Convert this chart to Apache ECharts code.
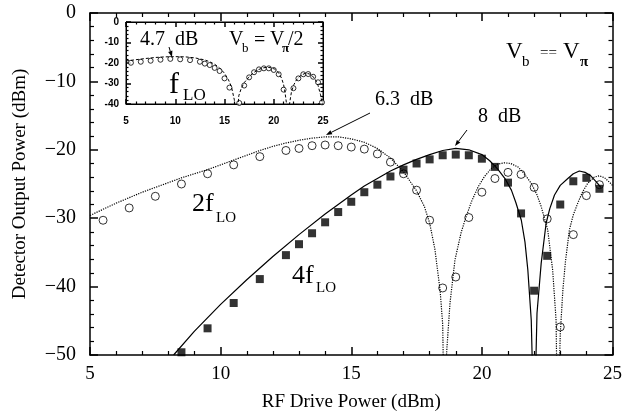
<!DOCTYPE html>
<html>
<head>
<meta charset="utf-8">
<script src="https://cdn.jsdelivr.net/npm/echarts@6/dist/echarts.min.js"></script>
<style>
html,body{margin:0;padding:0;background:#fff}
#chart{width:625px;height:420px}
</style>
</head>
<body>
<div id="chart"></div>
<script>
// 2f_LO theory (dotted) and measured (open circles)
var x2Fit = [5.0,5.5,6.0,6.5,7.0,7.5,8.0,8.5,9.0,9.5,10.0,10.5,11.0,11.5,12.0,12.5,13.0,13.5,14.0,14.5,15.0,15.5,16.0,16.5,17.0,17.5,
             17.8,18.0,18.2,18.4,18.5,18.57,
             18.65,18.78,18.97,19.2,19.35,19.6,19.86,20.1,20.37,20.6,20.87,21.1,21.38,21.6,21.89,22.1,22.27,22.52,22.71,22.84,22.9,
             23.0,23.1,23.2,23.35,23.5,23.67,23.85,24.05,24.3,24.5,24.7,24.9,25.0];
var y2Fit = [-29.6,-28.7,-27.8,-27.0,-26.2,-25.5,-24.8,-24.1,-23.5,-22.9,-22.2,-21.5,-20.8,-20.1,-19.5,-19.0,-18.6,-18.3,-18.1,-18.1,-18.4,-18.9,-19.8,-21.2,-23.2,-26.0,
             -28.3,-30.7,-34.5,-40.5,-45.5,-62,
             -49.7,-42.4,-36.1,-32.2,-30.3,-27.6,-25.4,-23.9,-22.7,-22.1,-21.9,-22.0,-22.5,-23.4,-24.9,-26.5,-28.3,-31.7,-37.6,-44.9,-62,
             -47,-40.5,-36.3,-31.7,-29.5,-27.8,-26.2,-24.9,-24.0,-23.8,-24.1,-24.8,-25.2];
var x2Meas = [5.5,6.5,7.5,8.5,9.5,10.5,11.5,12.5,13,13.5,14,14.5,15,15.5,16,16.5,17,17.5,18,18.5,19,19.5,20,20.5,21,21.5,22,22.5,23,23.5,24,24.5];
var y2Meas = [-30.3,-28.5,-26.8,-25.0,-23.5,-22.2,-21.0,-20.1,-19.8,-19.4,-19.3,-19.4,-19.6,-19.9,-20.6,-21.8,-23.5,-25.9,-30.3,-40.2,-38.6,-29.9,-26.2,-24.2,-23.3,-23.6,-25.5,-30.1,-45.9,-32.4,-26.7,-25.1];

// 4f_LO theory (solid) and measured (filled squares)
var x4Fit = [8.2,9.0,10.0,11.0,12.0,13.0,14.0,15.0,15.5,16.0,16.5,17.0,17.5,18.0,18.5,19.0,19.5,20.0,
             20.3,20.6,20.9,21.13,21.3,21.51,21.65,21.76,21.89,22.0,
             22.11,22.27,22.46,22.6,22.78,23.0,23.29,23.5,23.73,23.95,24.17,24.43,24.55];
var y4Fit = [-50.0,-46.5,-42.6,-39.0,-35.6,-32.4,-29.4,-26.6,-25.3,-24.2,-23.1,-22.2,-21.4,-20.7,-20.1,-19.8,-20.0,-20.7,
             -21.6,-22.8,-24.3,-25.9,-27.7,-30.3,-33.5,-37.6,-44.9,-62,
             -43.9,-36.6,-30.7,-28.6,-26.6,-25.2,-24.2,-23.5,-23.1,-23.3,-23.8,-24.9,-25.5];
var x4Meas = [8.5,9.5,10.5,11.5,12.5,13,13.5,14,14.5,15,15.5,16,16.5,17,17.5,18,18.5,19,19.5,20,20.5,21,21.5,22,22.5,23,23.5,24,24.5];
var y4Meas = [-49.6,-46.1,-42.4,-38.9,-35.4,-33.8,-32.2,-30.6,-29.1,-27.6,-26.2,-25.1,-23.9,-22.9,-22.0,-21.4,-20.8,-20.7,-20.8,-21.3,-22.5,-24.8,-29.3,-40.6,-35.5,-28.0,-24.6,-24.1,-25.7];

// inset: f_LO at Vb = Vpi/2
var xInFit = [5.0,6.0,7.0,8.0,9.0,10.0,11.0,12.0,13.0,13.5,14.0,14.5,15.0,15.4,15.7,16.0,16.2,
              16.45,16.7,17.0,17.4,17.9,18.4,18.9,19.3,19.7,20.1,20.5,20.8,21.0,21.15,21.3,21.45,
              21.6,21.8,22.05,22.3,22.7,23.2,23.6,23.9,24.2,24.5,24.75,24.95];
var yInFit = [-19.0,-18.4,-17.8,-17.3,-17.0,-16.9,-17.0,-17.5,-18.5,-19.4,-20.6,-22.4,-25.0,-28.2,-31.5,-38.0,-55,
              -36.0,-32.4,-29.6,-27.3,-24.9,-23.3,-22.4,-22.1,-22.3,-23.0,-24.8,-27.5,-30.5,-34.5,-40,-55,
              -40,-34,-30.5,-28.3,-26.2,-25.0,-25.3,-26.2,-27.9,-31.0,-35.5,-40.5];
var xInMeas = [5.5,6.5,7.5,8.5,9.5,10.5,11.5,12.5,13,13.5,14,14.5,15,15.5,16.5,17,17.5,18,18.5,19,19.5,20,20.5,21,22,22.5,23,23.5,24,24.5,24.9];
var yInMeas = [-19.9,-19.4,-18.9,-18.4,-18.0,-18.2,-18.6,-19.4,-20.3,-21.0,-22.4,-23.9,-27.5,-32.0,-39.5,-31.0,-27.0,-24.5,-23.1,-22.6,-22.6,-23.4,-25.5,-33.0,-32.3,-27.5,-25.5,-25.4,-26.7,-29.4,-39.2];

// tick labels
var xTicks = [5, 10, 15, 20, 25];
var yTicks = [-50, -40, -30, -20, -10, 0];
var yTicksInset = [-40, -30, -20, -10, 0];

function zip(xs, ys) {
    return xs.map(function (x, i) { return [x, ys[i]]; });
}

var serif = '"Liberation Serif", "DejaVu Serif", serif';
var sans = '"Liberation Sans", "DejaVu Sans", sans-serif';

// shared axis pieces: box frame with inward ticks
function frameAxis(o) {
    var a = {
        type: 'value',
        axisLine: { show: true, onZero: false, lineStyle: { color: '#000', width: o.lw || 1.5 } },
        axisTick: { show: true, inside: true, length: o.tick, lineStyle: { color: '#000', width: 1.5 } },
        minorTick: { show: true, splitNumber: 5, length: o.tick / 2, lineStyle: { color: '#000', width: 1.2 } },
        splitLine: { show: false },
        axisLabel: { show: false }
    };
    for (var k in o) { if (k !== 'tick' && k !== 'lw') a[k] = o[k]; }
    return a;
}

var myChart = echarts.init(document.getElementById('chart'));

var option = {
    animation: false,
    grid: [
        { left: 90, top: 13, width: 525, height: 342 },   // main
        { left: 126, top: 22, width: 197, height: 82, show: true, backgroundColor: '#fff', borderColor: '#000', borderWidth: 1 } // inset
    ],
    xAxis: [
        frameAxis({ gridIndex: 0, position: 'bottom', tick: 8, min: xTicks[0], max: xTicks[xTicks.length - 1], interval: 5,
            axisLabel: { show: true, color: '#000', fontFamily: serif, fontSize: 19, margin: 10 },
            name: 'RF Drive Power (dBm)', nameLocation: 'middle', nameGap: 38,
            nameTextStyle: { color: '#000', fontFamily: serif, fontSize: 19 } }),
        frameAxis({ gridIndex: 0, position: 'top', tick: 8, min: 5, max: 25, interval: 5 }),
        frameAxis({ gridIndex: 1, position: 'bottom', tick: 5, lw: 1, min: 5, max: 25, interval: 5,
            axisLabel: { show: true, color: '#000', fontFamily: sans, fontWeight: 'bold', fontSize: 10, margin: 12 } }),
        frameAxis({ gridIndex: 1, position: 'top', tick: 5, lw: 1, min: 5, max: 25, interval: 5 })
    ],
    yAxis: [
        frameAxis({ gridIndex: 0, position: 'left', tick: 8, min: yTicks[0], max: yTicks[yTicks.length - 1], interval: 10,
            axisLabel: { show: true, color: '#000', fontFamily: serif, fontSize: 20, margin: 14,
                formatter: function (v) { return v < 0 ? '\u2212' + (-v) : String(v); } },
            name: 'Detector Output Power (dBm)', nameLocation: 'middle', nameGap: 60,
            nameTextStyle: { color: '#000', fontFamily: serif, fontSize: 19 } }),
        frameAxis({ gridIndex: 0, position: 'right', tick: 8, min: -50, max: 0, interval: 10 }),
        frameAxis({ gridIndex: 1, position: 'left', tick: 5, lw: 1, min: yTicksInset[0], max: 0, interval: 10,
            axisLabel: { show: true, color: '#000', fontFamily: sans, fontWeight: 'bold', fontSize: 10, margin: 7 } }),
        frameAxis({ gridIndex: 1, position: 'right', tick: 5, lw: 1, min: -40, max: 0, interval: 10 })
    ],
    series: [
        {
            name: '2fLO theory', type: 'line', xAxisIndex: 0, yAxisIndex: 0,
            data: zip(x2Fit, y2Fit), showSymbol: false, symbol: 'none',
            lineStyle: { color: '#000', width: 1.2, type: 'dotted' }
        },
        {
            name: '4fLO theory', type: 'line', xAxisIndex: 0, yAxisIndex: 0,
            data: zip(x4Fit, y4Fit), showSymbol: false, symbol: 'none',
            lineStyle: { color: '#000', width: 1.2 }
        },
        {
            name: '2fLO', type: 'scatter', xAxisIndex: 0, yAxisIndex: 0,
            data: zip(x2Meas, y2Meas), symbol: 'circle', symbolSize: 8,
            itemStyle: { color: '#fff', borderColor: '#000', borderWidth: 1 }
        },
        {
            name: '4fLO', type: 'scatter', xAxisIndex: 0, yAxisIndex: 0,
            data: zip(x4Meas, y4Meas), symbol: 'rect', symbolSize: 8,
            itemStyle: { color: '#000' }
        },
        {
            name: 'fLO theory', type: 'line', xAxisIndex: 2, yAxisIndex: 2,
            data: zip(xInFit, yInFit), showSymbol: false, symbol: 'none',
            lineStyle: { color: '#000', width: 1, type: [3, 2] }
        },
        {
            name: 'fLO', type: 'scatter', xAxisIndex: 2, yAxisIndex: 2,
            data: zip(xInMeas, yInMeas), symbol: 'circle', symbolSize: 5,
            itemStyle: { color: '#fff', borderColor: '#000', borderWidth: 1 }
        }
    ],
    graphic: [
        // main annotations
        txt('6.3  dB', 375, 100, 20),
        txt('8  dB', 478, 117, 20),
        txt('V', 506, 52, 23), txt('b', 522, 62, 15), txt('==', 540, 53, 15),
        txt('V', 563, 52, 23), txt('\u03c0', 580, 62, 15, 'bold'),
        txt('2f', 192, 204, 26), txt('LO', 216, 218, 15),
        txt('4f', 292, 276, 26), txt('LO', 316, 288, 15),
        arrow(370, 113, 326, 135),
        arrow(467, 130, 455, 146),
        // inset annotations
        txt('4.7  dB', 140, 40, 20),
        txt('V', 229, 40, 20), txt('b', 242, 49, 13), txt('=', 254, 41, 20),
        txt('V', 270, 40, 20), txt('\u03c0', 282, 49, 13, 'bold'), txt('/2', 288, 40, 20),
        txt('f', 169, 85, 30), txt('LO', 183, 96, 17),
        arrow(169, 47, 172, 57)
    ]
};

function txt(s, x, y, size, weight) {
    return {
        type: 'text', x: x, y: y, z: 100,
        style: {
            text: s, fill: '#000', fontFamily: serif, fontSize: size, fontWeight: weight || 'normal',
            align: 'left', verticalAlign: 'middle', textAlign: 'left', textVerticalAlign: 'middle'
        }
    };
}

function arrow(x1, y1, x2, y2) {
    var dx = x2 - x1, dy = y2 - y1, len = Math.sqrt(dx * dx + dy * dy);
    var ux = dx / len, uy = dy / len, h = 6, w = 2.2;
    var bx = x2 - ux * h, by = y2 - uy * h;
    return {
        type: 'group', z: 100,
        children: [
            { type: 'line', shape: { x1: x1, y1: y1, x2: bx, y2: by }, style: { stroke: '#000', lineWidth: 1 } },
            { type: 'polygon', shape: { points: [[x2, y2], [bx - uy * w, by + ux * w], [bx + uy * w, by - ux * w]] },
              style: { fill: '#000' } }
        ]
    };
}

myChart.setOption(option);
window.addEventListener('resize', function () {
    myChart.resize();
});
</script>
</body>
</html>
